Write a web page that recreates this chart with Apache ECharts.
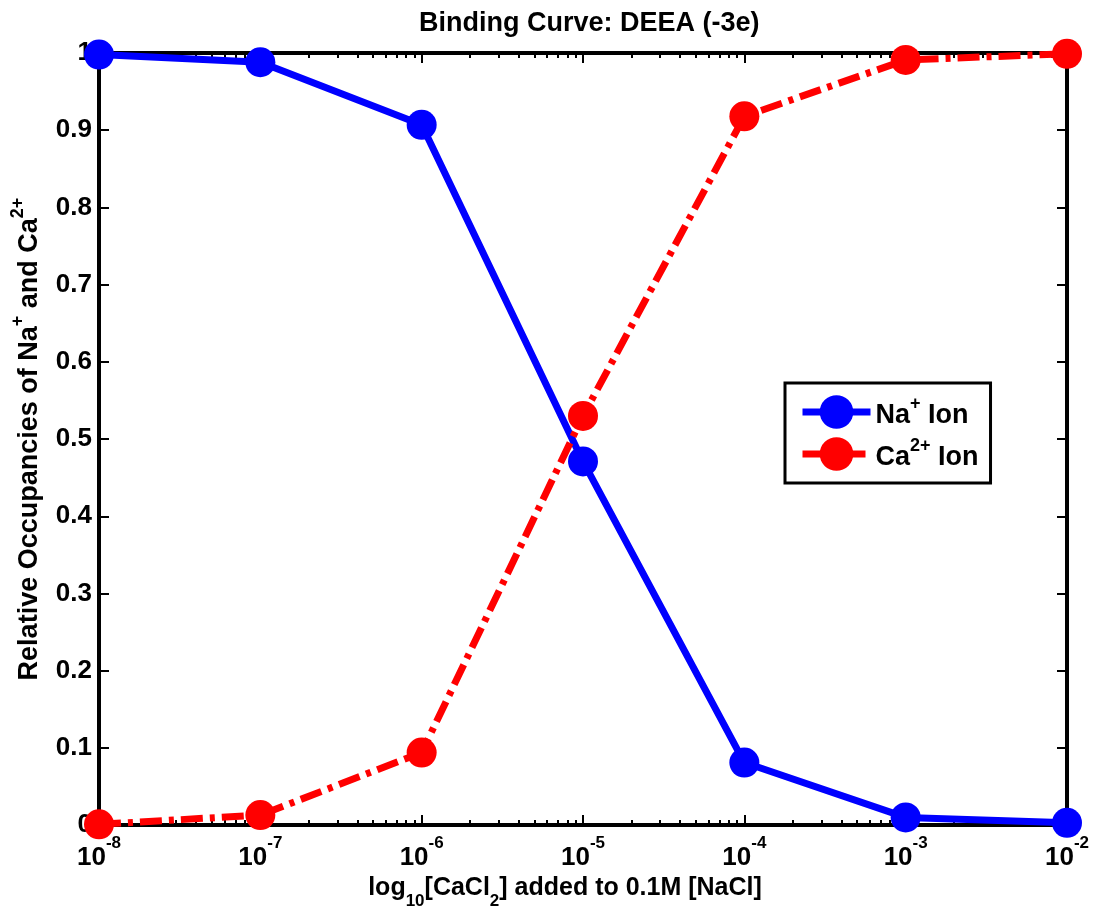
<!DOCTYPE html>
<html>
<head>
<meta charset="utf-8">
<script src="https://cdn.jsdelivr.net/npm/echarts@6/dist/echarts.min.js"></script>
<style>
html,body{margin:0;padding:0;background:#fff;}
#chart{width:1100px;height:915px;}
</style>
</head>
<body>
<div id="chart"></div>
<script>
// exponents of [CaCl2] (log10 scale)
const xExponents = [-8, -7, -6, -5, -4, -3, -2];
const naValues = [0.998, 0.988, 0.907, 0.471, 0.081, 0.010, 0.003];
const caValues = [0.001, 0.013, 0.094, 0.530, 0.918, 0.991, 0.999];
const yTicks = [0, 0.1, 0.2, 0.3, 0.4, 0.5, 0.6, 0.7, 0.8, 0.9, 1];
const seriesNames = ['Na+ Ion', 'Ca2+ Ion'];

// minor log ticks (2..9 within each decade)
const minorTicks = [];
for (let n = xExponents[0]; n < xExponents[xExponents.length - 1]; n++) {
  for (let k = 2; k <= 9; k++) minorTicks.push(n + Math.log10(k));
}

const FONT = '"Liberation Sans", Arial, sans-serif';
const chart = echarts.init(document.getElementById('chart'));

const baseX = {
  type: 'value', min: xExponents[0], max: xExponents[xExponents.length - 1], interval: 1,
  splitLine: { show: false },
  axisLine: { show: true, onZero: false, lineStyle: { color: '#000', width: 4 } }
};

const option = {
  backgroundColor: '#fff',
  animation: false,
  title: {
    text: 'Binding Curve: DEEA (-3e)',
    left: 419, top: 10, padding: 0,
    textStyle: { fontFamily: FONT, fontWeight: 'bold', fontSize: 27, color: '#000' }
  },
  grid: { left: 99, right: 33, top: 53, bottom: 89, containLabel: false },
  legend: {
    orient: 'vertical', left: 785, top: 383,
    backgroundColor: '#fff', borderColor: '#000', borderWidth: 3, borderRadius: 0,
    padding: [12, 12, 12, 14], itemGap: 8, itemWidth: 68, itemHeight: 42,
    lineStyle: { width: 7 },
    data: seriesNames,
    formatter: function (name) {
      if (name === seriesNames[0]) return '{t|Na}{s|+}{t| Ion}';
      return '{t|Ca}{s|2+}{t| Ion}';
    },
    textStyle: {
      fontFamily: FONT, fontWeight: 'bold', color: '#000',
      rich: {
        t: { fontFamily: FONT, fontWeight: 'bold', fontSize: 27, color: '#000', lineHeight: 34, verticalAlign: 'bottom' },
        s: { fontFamily: FONT, fontWeight: 'bold', fontSize: 18, color: '#000', lineHeight: 18, verticalAlign: 'top' }
      }
    }
  },
  xAxis: [
    Object.assign({}, baseX, {
      position: 'bottom',
      axisTick: { show: true, inside: true, length: 10, lineStyle: { color: '#000', width: 2 } },
      axisLabel: {
        show: true, margin: 10,
        formatter: function (v) { return '{b|10}{s|' + v + '}'; },
        rich: {
          b: { fontFamily: FONT, fontWeight: 'bold', fontSize: 26, color: '#000', lineHeight: 36, verticalAlign: 'bottom' },
          s: { fontFamily: FONT, fontWeight: 'bold', fontSize: 17, color: '#000', lineHeight: 17, verticalAlign: 'top' }
        }
      },
      name: '{t|log}{sub|10}{t|[CaCl}{sub|2}{t|] added to 0.1M [NaCl]}',
      nameLocation: 'middle', nameGap: 44,
      nameTextStyle: {
        padding: [0, 36, 0, 0],
        rich: {
          t: { fontFamily: FONT, fontWeight: 'bold', fontSize: 25, color: '#000', lineHeight: 34, verticalAlign: 'top' },
          sub: { fontFamily: FONT, fontWeight: 'bold', fontSize: 17, color: '#000', lineHeight: 17, verticalAlign: 'bottom' }
        }
      }
    }),
    Object.assign({}, baseX, {
      position: 'bottom',
      axisTick: { show: true, inside: true, length: 5, customValues: minorTicks, lineStyle: { color: '#000', width: 2 } },
      axisLabel: { show: false }
    }),
    Object.assign({}, baseX, {
      position: 'top',
      axisTick: { show: true, inside: true, length: 10, lineStyle: { color: '#000', width: 2 } },
      axisLabel: { show: false }
    }),
    Object.assign({}, baseX, {
      position: 'top',
      axisTick: { show: true, inside: true, length: 5, customValues: minorTicks, lineStyle: { color: '#000', width: 2 } },
      axisLabel: { show: false }
    })
  ],
  yAxis: [
    {
      type: 'value', position: 'left', min: yTicks[0], max: yTicks[yTicks.length - 1], interval: 0.1,
      splitLine: { show: false },
      axisLine: { show: true, onZero: false, lineStyle: { color: '#000', width: 4 } },
      axisTick: { show: true, inside: true, length: 10, lineStyle: { color: '#000', width: 2 } },
      axisLabel: { show: true, margin: 7, fontFamily: FONT, fontWeight: 'bold', fontSize: 26, color: '#000' },
      name: '{t|Relative Occupancies of Na}{s|+}{t| and Ca}{s|2+}',
      nameLocation: 'middle', nameGap: 56,
      nameTextStyle: {
        padding: [0, 0, 0, 0],
        rich: {
          t: { fontFamily: FONT, fontWeight: 'bold', fontSize: 27, color: '#000', lineHeight: 34, verticalAlign: 'bottom' },
          s: { fontFamily: FONT, fontWeight: 'bold', fontSize: 18, color: '#000', lineHeight: 18, verticalAlign: 'top' }
        }
      }
    },
    {
      type: 'value', position: 'right', min: yTicks[0], max: yTicks[yTicks.length - 1], interval: 0.1,
      splitLine: { show: false },
      axisLine: { show: true, onZero: false, lineStyle: { color: '#000', width: 4 } },
      axisTick: { show: true, inside: true, length: 10, lineStyle: { color: '#000', width: 2 } },
      axisLabel: { show: false }
    }
  ],
  series: [
    {
      name: seriesNames[0], type: 'line', xAxisIndex: 0, yAxisIndex: 0,
      data: xExponents.map((x, i) => [x, naValues[i]]),
      symbol: 'circle', symbolSize: 30, clip: false,
      lineStyle: { color: '#0000ff', width: 7 },
      itemStyle: { color: '#0000ff' }, z: 3
    },
    {
      name: seriesNames[1], type: 'line', xAxisIndex: 0, yAxisIndex: 0,
      data: xExponents.map((x, i) => [x, caValues[i]]),
      symbol: 'circle', symbolSize: 30, clip: false,
      lineStyle: { color: '#ff0000', width: 7, type: [22, 7, 5, 7] },
      itemStyle: { color: '#ff0000' }, z: 4
    }
  ]
};
chart.setOption(option);
</script>
</body>
</html>
